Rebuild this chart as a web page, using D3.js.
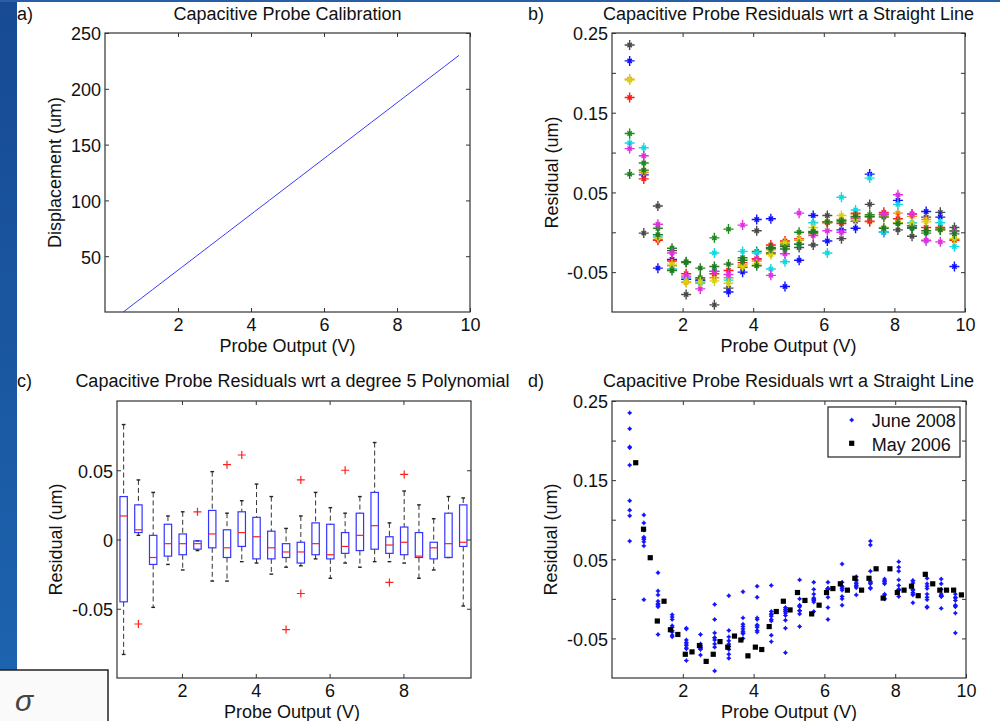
<!DOCTYPE html>
<html><head><meta charset="utf-8">
<script src="https://cdnjs.cloudflare.com/ajax/libs/d3/7.8.5/d3.min.js"></script>
<style>
html,body{margin:0;padding:0;background:#fff;}
svg{display:block;}
text{font-family:"Liberation Sans",Arial,sans-serif;}
</style></head><body>
<script>
// ---------------- DATA ----------------
const voltages = [0.5,0.9,1.3,1.7,2.1,2.5,2.9,3.3,3.7,4.1,4.5,4.9,5.3,5.7,6.1,6.5,6.9,7.3,7.7,8.1,8.5,8.9,9.3,9.7];
const displacement = [0,10,20,30,40,50,60,70,80,90,100,110,120,130,140,150,160,170,180,190,200,210,220,230];

// residuals wrt straight line, one array per run (June 2008)
const resK  = [0.235,-0.001,0.033,-0.023,-0.078,-0.061,-0.091,-0.070,-0.044,0.002,-0.026,-0.018,-0.019,-0.016,0.021,-0.008,0.014,0.035,0.022,0.003,-0.005,0.019,0.025,0.006];
const resB  = [0.215,0.072,-0.045,-0.034,-0.059,-0.061,-0.049,-0.075,-0.050,0.016,0.017,-0.068,-0.035,0.021,-0.011,0.003,0.005,0.073,0.000,0.040,0.008,0.026,0.019,-0.043];
const resO  = [0.192,0.075,-0.009,-0.042,-0.063,-0.064,-0.057,-0.057,-0.041,-0.036,-0.022,-0.014,-0.010,-0.002,0.013,0.016,0.023,0.013,0.020,0.024,0.020,0.016,0.004,-0.009];
const resR  = [0.169,0.067,-0.010,-0.036,-0.052,-0.059,-0.052,-0.048,-0.038,-0.033,-0.016,-0.011,-0.008,-0.001,0.012,0.011,0.024,0.014,0.025,0.017,0.023,0.006,0.006,-0.010];
const resG  = [0.124,0.087,0.005,-0.020,-0.037,-0.057,-0.007,0.004,-0.032,-0.024,-0.019,-0.016,0.000,0.000,0.013,0.015,0.019,0.022,0.019,0.012,0.006,-0.001,0.004,0.002];
const resC  = [0.112,0.106,-0.006,-0.046,-0.057,-0.063,-0.026,-0.060,-0.024,-0.026,-0.046,-0.037,-0.015,0.012,-0.026,0.044,0.028,0.068,0.000,0.035,0.012,-0.011,0.012,-0.018];
const resM  = [0.105,0.096,0.010,-0.026,-0.055,-0.071,-0.049,-0.053,0.009,-0.034,-0.054,-0.027,0.024,-0.004,0.002,0.000,0.017,0.019,0.023,0.047,0.023,-0.010,-0.012,0.001];
const resY  = [0.191,0.077,-0.007,-0.040,-0.062,-0.062,-0.061,-0.064,-0.043,-0.040,-0.028,-0.013,-0.009,0.006,0.013,0.021,0.016,0.020,0.006,0.012,0.011,0.013,0.003,-0.008];
const resG2 = [0.073,0.078,-0.003,-0.048,-0.038,-0.045,-0.043,-0.040,-0.035,-0.042,-0.020,-0.021,-0.015,0.001,0.013,0.013,0.020,0.020,0.005,0.011,0.005,0.002,0.003,-0.002];
const runSeries = [resK,resB,resO,resR,resG,resC,resM,resY,resG2];
const runColors = ["#4a4a4a","#1010ff","#f09010","#ff1a1a","#1c8c1c","#10d8e0","#e030e0","#d8d010","#227a22"];

// May 2006 residuals
const mayV = [0.67,0.89,1.08,1.28,1.47,1.65,1.86,2.07,2.26,2.47,2.66,2.86,3.05,3.27,3.46,3.64,3.84,4.05,4.23,4.44,4.64,4.84,5.03,5.24,5.45,5.64,5.85,6.06,6.24,6.45,6.65,6.86,7.05,7.26,7.46,7.66,7.85,8.06,8.25,8.46,8.65,8.85,9.06,9.26,9.45,9.65,9.87];
const mayR = [0.172,0.088,0.052,-0.028,-0.003,-0.039,-0.045,-0.070,-0.067,-0.059,-0.079,-0.070,-0.054,-0.061,-0.047,-0.052,-0.072,-0.061,-0.064,-0.035,-0.016,-0.003,-0.014,0.008,-0.002,-0.019,-0.008,0.008,0.013,0.019,0.011,0.026,0.011,0.026,0.038,0.001,0.038,0.008,0.011,0.016,0.004,0.031,0.019,0.011,0.011,0.011,0.005];

// boxplot of residuals wrt degree 5 polynomial
const boxPos    = [0.42,0.82,1.22,1.62,2.02,2.42,2.82,3.22,3.62,4.02,4.42,4.82,5.22,5.62,6.02,6.42,6.82,7.22,7.62,8.02,8.42,8.82,9.22,9.62];
const whiskerHi = [0.083,0.043,0.034,0.017,0.020,-0.001,0.049,0.019,0.028,0.040,0.031,0.008,0.017,0.034,0.023,0.019,0.031,0.070,0.012,0.035,0.025,0.015,0.031,0.030];
const q3        = [0.031,0.025,0.003,0.011,0.004,-0.001,0.021,0.007,0.020,0.016,0.006,-0.003,-0.002,0.012,0.011,0.005,0.019,0.034,0.002,0.009,0.005,-0.002,0.019,0.025];
const medians   = [0.017,0.007,-0.013,-0.003,-0.003,-0.003,0.004,-0.006,0.005,0.002,-0.006,-0.009,-0.009,-0.003,-0.011,-0.005,0.003,0.010,-0.004,-0.002,-0.012,-0.006,-0.003,-0.002];
const q1        = [-0.045,0.005,-0.018,-0.012,-0.011,-0.007,-0.006,-0.013,-0.005,-0.014,-0.014,-0.013,-0.017,-0.011,-0.014,-0.010,-0.008,-0.007,-0.010,-0.011,-0.013,-0.014,-0.013,-0.005];
const whiskerLo = [-0.083,0.003,-0.049,-0.018,-0.022,-0.008,-0.030,-0.030,-0.016,-0.017,-0.025,-0.020,-0.019,-0.014,-0.028,-0.017,-0.020,-0.016,-0.016,-0.017,-0.028,-0.022,-0.013,-0.048];
const outlierPos = [0.82,2.42,3.22,3.62,4.82,5.22,5.22,6.42,7.62,8.02];
const outlierVal = [-0.061,0.020,0.054,0.061,-0.065,0.043,-0.039,0.050,-0.031,0.047];

// ticks
const xTicks10 = [2,4,6,8,10];
const xTicksC = [2,4,6,8];
const yTicksA = [50,100,150,200,250];
const yTicksRes = [-0.05,0,0.05,0.1,0.15,0.2,0.25];
const yLabelsRes = [-0.05,0.05,0.15,0.25];
const yTicksC = [-0.05,0,0.05];
const legendLabels = ["June 2008","May 2006"];

// ---------------- DRAW ----------------
const W=1000,H=721, FONT='"Liberation Sans", Arial, sans-serif';
const svg=d3.select("body").append("svg").attr("width",W).attr("height",H);
const defs=svg.append("defs");
const grad=defs.append("linearGradient").attr("id","strip").attr("x1",0).attr("y1",0).attr("x2",0).attr("y2",1);
grad.append("stop").attr("offset","0%").attr("stop-color","#174a93");
grad.append("stop").attr("offset","100%").attr("stop-color","#1d63ae");
svg.append("rect").attr("width",W).attr("height",H).attr("fill","#fff");
svg.append("rect").attr("x",0).attr("y",0).attr("width",17).attr("height",670).attr("fill","url(#strip)");
svg.append("rect").attr("x",0).attr("y",0).attr("width",W).attr("height",2).attr("fill","#2a5ea6");

function panel(id, box, xDom, yDom, xT, yT, yLab, fmt){
  const x=d3.scaleLinear().domain(xDom).range([box.x0,box.x1]);
  const y=d3.scaleLinear().domain(yDom).range([box.y1,box.y0]);
  defs.append("clipPath").attr("id","clip"+id).append("rect")
    .attr("x",box.x0).attr("y",box.y0).attr("width",box.x1-box.x0).attr("height",box.y1-box.y0);
  const g=svg.append("g");
  g.append("rect").attr("x",box.x0).attr("y",box.y0).attr("width",box.x1-box.x0).attr("height",box.y1-box.y0).attr("fill","#fff");
  const plot=g.append("g").attr("clip-path",`url(#clip${id})`);
  const axes=g.append("g");
  const TL=4;
  const sty=a=>{a.select(".domain").remove();a.attr("font-size",18).attr("font-family",FONT);
    a.selectAll("line").attr("stroke","#333");a.selectAll("text").attr("fill","#111");};
  const lf = d=> (yLab.some(v=>Math.abs(v-d)<1e-9) ? fmt(d) : "");
  axes.append("g").attr("transform",`translate(0,${box.y1})`)
    .call(d3.axisBottom(x).tickValues(xT).tickSizeInner(-TL).tickSizeOuter(0).tickPadding(6)).call(sty);
  axes.append("g").attr("transform",`translate(0,${box.y0})`)
    .call(d3.axisTop(x).tickValues(xT).tickSizeInner(-TL).tickSizeOuter(0).tickFormat("")).call(sty);
  const la=axes.append("g").attr("transform",`translate(${box.x0},0)`)
    .call(d3.axisLeft(y).tickValues(yT).tickSizeInner(-TL).tickSizeOuter(0).tickPadding(4).tickFormat(lf)).call(sty);
  la.selectAll("text").attr("dy","0.38em");
  axes.append("g").attr("transform",`translate(${box.x1},0)`)
    .call(d3.axisRight(y).tickValues(yT).tickSizeInner(-TL).tickSizeOuter(0).tickFormat("")).call(sty);
  axes.append("rect").attr("x",box.x0).attr("y",box.y0).attr("width",box.x1-box.x0).attr("height",box.y1-box.y0)
    .attr("fill","none").attr("stroke","#333").attr("stroke-width",1.2);
  return {x,y,plot,g};
}
function txt(s,x,y,opt={}){
  const t=svg.append("text").attr("x",x).attr("y",y).text(s).attr("font-size",opt.size||18)
    .attr("font-family",FONT).attr("fill","#111").attr("text-anchor",opt.anchor||"start");
  if(opt.rot) t.attr("transform",`rotate(-90,${x},${y})`);
  return t;
}
const fmt=d=>String(d);

// ---- a ----
const A=panel("a",{x0:105,x1:470,y0:33,y1:312},[0,10],[0,250],xTicks10,yTicksA,yTicksA,fmt);
A.plot.append("path").datum(voltages.map((v,i)=>[v,displacement[i]]))
  .attr("d",d3.line().x(d=>A.x(d[0])).y(d=>A.y(d[1]))).attr("fill","none").attr("stroke","#3a3aff").attr("stroke-width",1);
txt("Capacitive Probe Calibration",287.5,20,{anchor:"middle"});
txt("a)",17,20);
txt("Probe Output (V)",287.5,352,{anchor:"middle"});
txt("Displacement (um)",61,172.5,{anchor:"middle",rot:true});

// ---- b ----
const B=panel("b",{x0:612,x1:965,y0:33,y1:312},[0,10],[-0.1,0.25],xTicks10,yTicksRes,yLabelsRes,fmt);
const starPath="M-5,0H5M0,-5V5M-2.2,-2.2L2.2,2.2M-2.2,2.2L2.2,-2.2";
runSeries.forEach((s,k)=>{
  B.plot.append("g").selectAll("path").data(s).join("path")
    .attr("transform",(d,i)=>`translate(${B.x(voltages[i])},${B.y(d)})`)
    .attr("d",starPath).attr("stroke",runColors[k]).attr("stroke-width",1.4).attr("fill","none");
});
txt("Capacitive Probe Residuals wrt a Straight Line",788.5,20,{anchor:"middle"});
txt("b)",528,20);
txt("Probe Output (V)",788.5,352,{anchor:"middle"});
txt("Residual (um)",558,172.5,{anchor:"middle",rot:true});

// ---- c ----
const C=panel("c",{x0:117,x1:471,y0:401,y1:678},[0.24,9.83],[-0.1,0.1],xTicksC,yTicksC,yTicksC,fmt);
const bw=C.x(0.2)-C.x(0);
const bx=boxPos.map((p,i)=>({p,i}));
C.plot.append("g").selectAll("line").data(bx).join("line")
  .attr("x1",d=>C.x(d.p)).attr("x2",d=>C.x(d.p)).attr("y1",d=>C.y(whiskerHi[d.i])).attr("y2",d=>C.y(q3[d.i]))
  .attr("stroke","#333").attr("stroke-dasharray","5,3").attr("stroke-width",1);
C.plot.append("g").selectAll("line").data(bx).join("line")
  .attr("x1",d=>C.x(d.p)).attr("x2",d=>C.x(d.p)).attr("y1",d=>C.y(q1[d.i])).attr("y2",d=>C.y(whiskerLo[d.i]))
  .attr("stroke","#333").attr("stroke-dasharray","5,3").attr("stroke-width",1);
[whiskerHi,whiskerLo].forEach(arr=>{
  C.plot.append("g").selectAll("line").data(bx).join("line")
    .attr("x1",d=>C.x(d.p)-bw/4).attr("x2",d=>C.x(d.p)+bw/4).attr("y1",d=>C.y(arr[d.i])).attr("y2",d=>C.y(arr[d.i]))
    .attr("stroke","#222").attr("stroke-width",1.4);
});
C.plot.append("g").selectAll("rect").data(bx).join("rect")
  .attr("x",d=>C.x(d.p)-bw/2).attr("width",bw).attr("y",d=>C.y(q3[d.i])).attr("height",d=>Math.max(0.5,C.y(q1[d.i])-C.y(q3[d.i])))
  .attr("fill","none").attr("stroke","#3535ff").attr("stroke-width",1.2);
C.plot.append("g").selectAll("line").data(bx).join("line")
  .attr("x1",d=>C.x(d.p)-bw/2).attr("x2",d=>C.x(d.p)+bw/2).attr("y1",d=>C.y(medians[d.i])).attr("y2",d=>C.y(medians[d.i]))
  .attr("stroke","#ff2020").attr("stroke-width",1.2);
C.plot.append("g").selectAll("path").data(outlierPos).join("path")
  .attr("transform",(d,i)=>`translate(${C.x(d)},${C.y(outlierVal[i])})`)
  .attr("d","M-4,0H4M0,-4V4").attr("stroke","#ff2020").attr("stroke-width",1.2);
txt("Capacitive Probe Residuals wrt a degree 5 Polynomial",292.5,387,{anchor:"middle"});
txt("c)",17,387);
txt("Probe Output (V)",292,718,{anchor:"middle"});
txt("Residual (um)",62,539.5,{anchor:"middle",rot:true});

// ---- d ----
const D=panel("d",{x0:612,x1:966,y0:401,y1:678},[0,10],[-0.1,0.25],xTicks10,yTicksRes,yLabelsRes,fmt);
const dotPath="M-2.3,0H2.3M0,-2.3V2.3";
runSeries.forEach(s=>{
  const gg=D.plot.append("g").selectAll("g").data(s).join("g")
    .attr("transform",(d,i)=>`translate(${D.x(voltages[i])},${D.y(d)})`);
  gg.append("circle").attr("r",1.7).attr("fill","#1515ff");
  gg.append("path").attr("d",dotPath).attr("stroke","#1515ff").attr("stroke-width",1);
});
D.plot.append("g").selectAll("rect").data(mayR).join("rect")
  .attr("x",(d,i)=>D.x(mayV[i])-2.6).attr("y",d=>D.y(d)-2.6).attr("width",5.2).attr("height",5.2).attr("fill","#000");
// legend
const lg=svg.append("g");
lg.append("rect").attr("x",828).attr("y",407).attr("width",132).attr("height",50).attr("fill","#fff").attr("stroke","#222").attr("stroke-width",1.2);
const lgm=lg.append("g").attr("transform","translate(851.7,420)");
lgm.append("circle").attr("r",1.7).attr("fill","#1515ff");
lgm.append("path").attr("d",dotPath).attr("stroke","#1515ff").attr("stroke-width",1);
lg.append("rect").attr("x",849.1).attr("y",440.7).attr("width",5.2).attr("height",5.2).attr("fill","#000");
txt(legendLabels[0],871.7,426.5);
txt(legendLabels[1],871.7,450.5);
txt("Capacitive Probe Residuals wrt a Straight Line",788.5,387,{anchor:"middle"});
txt("d)",528,387);
txt("Probe Output (V)",789,718,{anchor:"middle"});
txt("Residual (um)",557,539.5,{anchor:"middle",rot:true});

// sigma box
svg.append("rect").attr("x",-2).attr("y",670).attr("width",110).attr("height",60).attr("fill","#fafafa").attr("stroke","#222").attr("stroke-width",1.5);
svg.append("text").attr("x",15).attr("y",711).text("σ").attr("font-size",30).attr("font-style","italic")
  .attr("font-family",'"Liberation Serif","DejaVu Serif",serif').attr("fill","#444");
</script></body></html>
